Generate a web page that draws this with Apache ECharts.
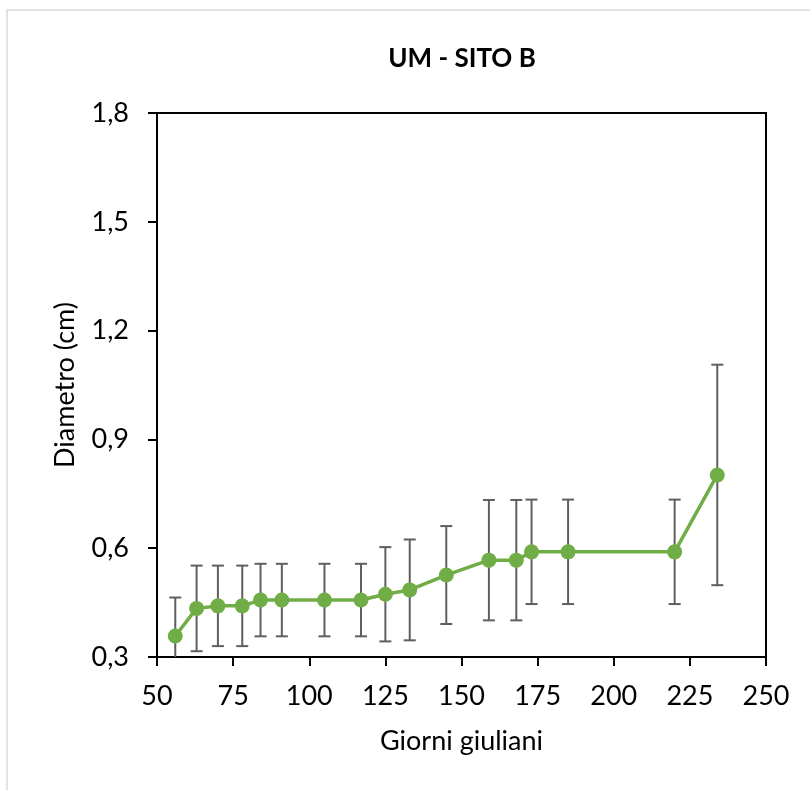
<!DOCTYPE html>
<html>
<head>
<meta charset="utf-8">
<script src="https://cdn.jsdelivr.net/npm/echarts@6/dist/echarts.min.js"></script>
<style>
  html, body { margin: 0; padding: 0; background: #fff; }
  #main { width: 810px; height: 790px; }
</style>
</head>
<body>
<div id="main"></div>
<script>
// giorni giuliani / diametro medio (cm) / dev. standard
var giorni = [56, 63, 70, 78, 84, 91, 105, 117, 125, 133, 145, 159, 168, 173, 185, 220, 234];
var diametro = [0.358, 0.434, 0.441, 0.441, 0.457, 0.457, 0.457, 0.457, 0.473, 0.485, 0.526, 0.567, 0.567, 0.590, 0.590, 0.590, 0.802];
var errore = [0.106, 0.118, 0.111, 0.111, 0.100, 0.100, 0.100, 0.100, 0.130, 0.139, 0.135, 0.166, 0.166, 0.144, 0.144, 0.144, 0.304];

var yMin = 0.3, yMax = 1.8;
var font = 'Lato';

var lineData = giorni.map(function (g, i) { return [g, diametro[i]]; });
var errData = giorni.map(function (g, i) { return [g, diametro[i] - errore[i], diametro[i] + errore[i]]; });

var chart = echarts.init(document.getElementById('main'), null, { renderer: 'canvas' });

var option = {
  backgroundColor: '#fff',
  animation: false,
  title: {
    text: 'UM - SITO B',
    left: 457,
    top: 41,
    textAlign: 'center',
    textStyle: { fontFamily: font, fontSize: 26, fontWeight: 'bold', color: '#000' }
  },
  graphic: [{
    type: 'rect',
    shape: { x: 7, y: 10, width: 830, height: 820 },
    style: { fill: null, stroke: '#d9d9d9', lineWidth: 1.5 },
    silent: true
  }],
  grid: {
    left: 157, right: 44, top: 113, bottom: 133,
    show: true, borderColor: '#000', borderWidth: 2
  },
  xAxis: {
    type: 'value',
    min: 50, max: 250, interval: 25,
    name: 'Giorni giuliani',
    nameLocation: 'middle',
    nameGap: 71,
    nameTextStyle: { fontFamily: font, fontSize: 27, color: '#000' },
    axisLine: { lineStyle: { color: '#000', width: 2 } },
    axisTick: { inside: false, length: 9, lineStyle: { color: '#000', width: 2 } },
    axisLabel: { margin: 26, fontFamily: font, fontSize: 27, color: '#000' },
    splitLine: { show: false }
  },
  yAxis: {
    type: 'value',
    min: yMin, max: yMax, interval: 0.3,
    name: 'Diametro (cm)',
    nameLocation: 'middle',
    nameGap: 78,
    nameTextStyle: { fontFamily: font, fontSize: 27, color: '#000' },
    axisLine: { show: true, lineStyle: { color: '#000', width: 2 } },
    axisTick: { show: true, inside: false, length: 9, lineStyle: { color: '#000', width: 2 } },
    axisLabel: {
      margin: 28, fontFamily: font, fontSize: 27, color: '#000',
      formatter: function (v) { return v.toFixed(1).replace('.', ','); }
    },
    splitLine: { show: false }
  },
  series: [
    {
      type: 'custom',
      name: 'errore',
      z: 1,
      data: errData,
      renderItem: function (params, api) {
        var x = api.value(0);
        var lo = Math.max(api.value(1), yMin);
        var hi = Math.min(api.value(2), yMax);
        var pLo = api.coord([x, lo]);
        var pHi = api.coord([x, hi]);
        var hw = 6;
        var style = { stroke: '#5f5f5f', lineWidth: 2 };
        var children = [
          { type: 'line', shape: { x1: pHi[0], y1: pHi[1], x2: pLo[0], y2: pLo[1] }, style: style },
          { type: 'line', shape: { x1: pHi[0] - hw, y1: pHi[1], x2: pHi[0] + hw, y2: pHi[1] }, style: style }
        ];
        if (api.value(1) >= yMin) {
          children.push({ type: 'line', shape: { x1: pLo[0] - hw, y1: pLo[1], x2: pLo[0] + hw, y2: pLo[1] }, style: style });
        }
        return { type: 'group', children: children };
      }
    },
    {
      type: 'line',
      name: 'diametro',
      z: 3,
      data: lineData,
      symbol: 'circle',
      symbolSize: 15,
      lineStyle: { color: '#70ad47', width: 3.5 },
      itemStyle: { color: '#70ad47' }
    }
  ]
};

chart.setOption(option);
</script>
</body>
</html>
